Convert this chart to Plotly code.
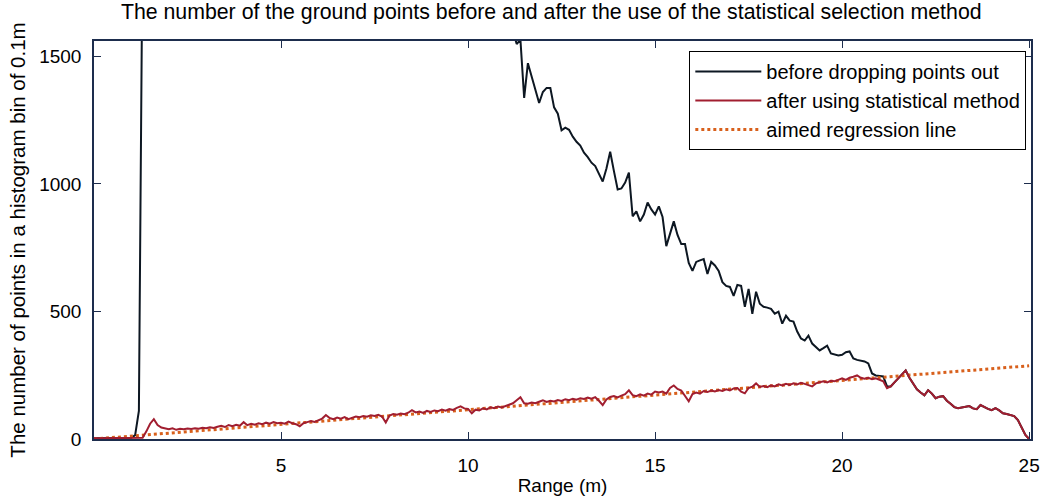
import plotly.graph_objects as go

# Histogram bins of 0.1 m along range, 0.0 .. 25.0 m
range_bins = [round(i / 10, 1) for i in range(251)]

# Ground points per bin after applying the statistical selection method
after_counts = [
    3, 3, 3, 3, 3, 3, 3, 3, 3, 3,                      # 0.0 - 0.9
    3, 4, 4, 5, 30, 60, 78, 55, 45, 40,                # 1.0 - 1.9
    38, 42, 36, 40, 38, 41, 39, 42, 40, 44,            # 2.0 - 2.9
    42, 46, 43, 48, 52, 47, 55, 50, 56, 52,            # 3.0 - 3.9
    66, 54, 60, 56, 62, 58, 64, 60, 66, 62,            # 4.0 - 4.9
    64, 60, 68, 62, 58, 50, 62, 66, 70, 67,            # 5.0 - 5.9
    72, 80, 94, 82, 78, 84, 80, 86, 78, 84,            # 6.0 - 6.9
    88, 85, 90, 87, 93, 90, 95, 88, 65, 92,            # 7.0 - 7.9
    98, 95, 100, 97, 103, 113, 104, 108, 102, 110,     # 8.0 - 8.9
    106, 112, 109, 115, 111, 117, 114, 122, 128, 120,  # 9.0 - 9.9
    118, 101, 115, 112, 120, 116, 124, 121, 127, 124,  # 10.0 - 10.9
    130, 134, 140, 152, 164, 140, 138, 143, 140, 146,  # 11.0 - 11.9
    152, 145, 150, 147, 153, 149, 156, 152, 158, 154,  # 12.0 - 12.9
    160, 157, 162, 158, 164, 150, 133, 155, 165, 168,  # 13.0 - 13.9
    163, 170, 176, 191, 172, 168, 175, 170, 178, 174,  # 14.0 - 14.9
    186, 182, 186, 178, 200, 210, 196, 190, 168, 148,  # 15.0 - 15.9
    176, 182, 178, 188, 184, 190, 186, 192, 188, 195,  # 16.0 - 16.9
    190, 198, 200, 186, 179, 200, 205, 218, 204, 208,  # 17.0 - 17.9
    203, 210, 206, 214, 210, 216, 212, 218, 214, 220,  # 18.0 - 18.9
    216, 210, 206, 218, 222, 226, 222, 228, 226, 232,  # 19.0 - 19.9
    238, 232, 240, 244, 249, 240, 236, 240, 234, 238,  # 20.0 - 20.9
    232, 226, 199, 206, 222, 238, 252, 269, 240, 215,  # 21.0 - 21.9
    195, 182, 171, 191, 178, 160, 166, 168, 150, 138,  # 22.0 - 22.9
    125, 121, 124, 126, 129, 120, 117, 133, 125, 118,  # 23.0 - 23.9
    113, 121, 112, 101, 98, 94, 90, 74, 45, 16,        # 24.0 - 24.9
    0,                                                 # 25.0
]

# Ground points per bin before dropping points out.
# Near range: 0.0 - 1.3 m (the bins beyond climb far above the axis).
before_near = [3, 3, 3, 3, 3, 3, 3, 3, 3, 3, 5, 15, 110, 2000]
# Far range: 11.2 - 21.2 m, where the counts come back on scale.
before_far = [
    1600, 1548, 1565, 1337, 1473, 1420, 1370, 1317,            # 11.2 - 11.9
    1360, 1376, 1376, 1300, 1275, 1210, 1220, 1212, 1185, 1165,  # 12.0 - 12.9
    1150, 1122, 1105, 1083, 1070, 1040, 1009, 1060, 1126, 1050,  # 13.0 - 13.9
    978, 982, 1005, 1044, 873, 892, 853, 880, 927, 900,          # 14.0 - 14.9
    880, 912, 870, 756, 810, 853, 800, 764, 764, 690,            # 15.0 - 15.9
    659, 694, 700, 705, 647, 694, 680, 659, 615, 600,            # 16.0 - 16.9
    596, 561, 604, 600, 518, 588, 491, 577, 530, 518,            # 17.0 - 17.9
    515, 510, 491, 499, 452, 483, 464, 460, 421, 394,            # 18.0 - 18.9
    386, 405, 374, 360, 347, 356, 366, 335, 332, 327,            # 19.0 - 19.9
    330, 340, 343, 316, 310, 306, 304, 296, 257, 249,            # 20.0 - 20.9
    247, 245, 206,                                               # 21.0 - 21.2
]
far_start = range_bins.index(11.2)
merge_start = range_bins.index(21.3)  # from here on nothing is dropped

before_x = (range_bins[:len(before_near)] + [None]
            + range_bins[far_start:])
before_y = (before_near + [None] + before_far
            + after_counts[merge_start:])

# Aimed linear regression of count against range
regression_x = [0, 25]
regression_y = [0, 287]

black = "#0d1722"
red = "#a11e30"
orange = "#d8601c"
axis_col = "#1d2d4d"
font_family = "Liberation Sans, Arial, Helvetica, sans-serif"

fig = go.Figure()
fig.add_trace(go.Scatter(
    x=before_x, y=before_y, mode="lines", name="before dropping points out",
    line=dict(color=black, width=2), connectgaps=False, legendrank=1,
))
fig.add_trace(go.Scatter(
    x=regression_x, y=regression_y, mode="lines", name="aimed regression line",
    line=dict(color=orange, width=3, dash="dot"), legendrank=3,
))
fig.add_trace(go.Scatter(
    x=range_bins, y=after_counts, mode="lines",
    name="after using statistical method",
    line=dict(color=red, width=2), legendrank=2,
))

fig.update_layout(
    width=1048, height=501,
    margin=dict(l=94, r=8, t=41, b=60),
    paper_bgcolor="white", plot_bgcolor="white",
    font=dict(family=font_family, size=19, color="black"),
    title=dict(
        text="The number of the ground points before and after the use of the statistical selection method",
        x=0.526, xanchor="center", y=0.992, yanchor="top",
        font=dict(size=21.3, color="black"),
    ),
    showlegend=True,
    legend=dict(
        x=0.995, xanchor="right", y=0.975, yanchor="top",
        bgcolor="white", bordercolor="black", borderwidth=1,
        font=dict(size=20, color="black"),
        itemwidth=66, tracegroupgap=0,
    ),
)
fig.update_xaxes(
    range=[0, 25.05], tickvals=[5, 10, 15, 20, 25],
    ticks="inside", ticklen=7, tickcolor=axis_col, tickwidth=1,
    showline=True, linecolor=axis_col, linewidth=1.5, mirror="ticks",
    showgrid=False, zeroline=False, ticklabelstandoff=8,
    title=dict(text="Range (m)", font=dict(size=19), standoff=4),
    tickfont=dict(size=19),
)
fig.update_yaxes(
    range=[0, 1560], tickvals=[0, 500, 1000, 1500],
    ticks="inside", ticklen=7, tickcolor=axis_col, tickwidth=1,
    showline=True, linecolor=axis_col, linewidth=1.5, mirror="ticks",
    showgrid=False, zeroline=False, ticklabelstandoff=7,
    title=dict(text="The number of points in a histogram bin of 0.1m",
               font=dict(size=20.5), standoff=8),
    tickfont=dict(size=19),
)

fig.write_html("out.html")
